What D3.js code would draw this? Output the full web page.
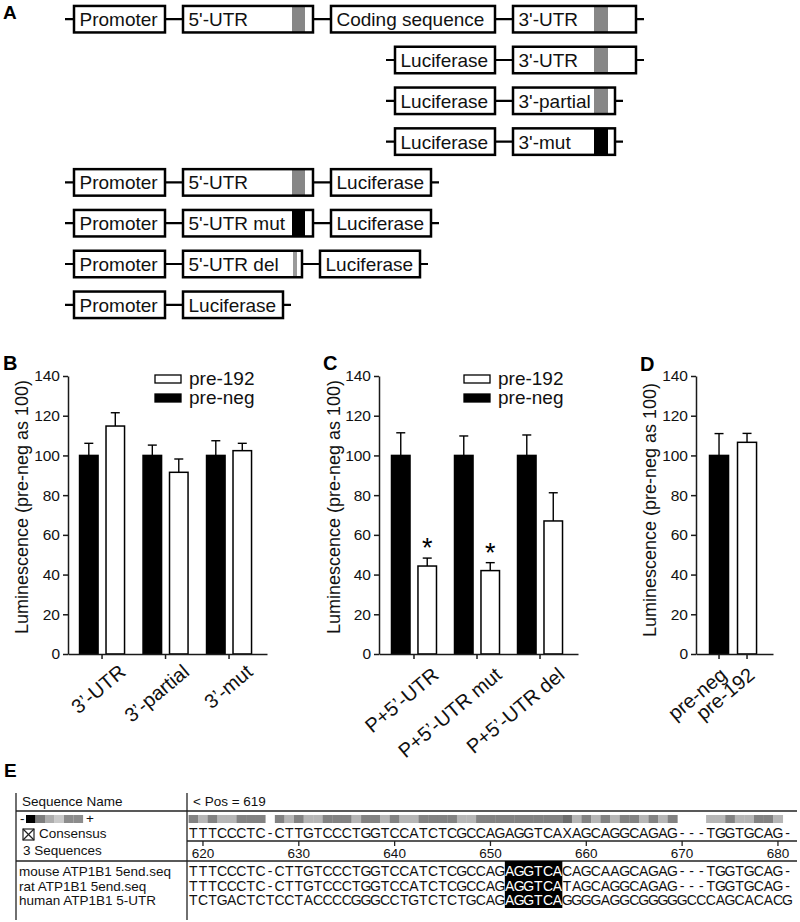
<!DOCTYPE html>
<html><head><meta charset="utf-8">
<script src="https://cdn.jsdelivr.net/npm/d3@7"></script>
<style>
body{margin:0;background:#fff}
svg{display:block}
text{font-family:"Liberation Sans",Arial,Helvetica,sans-serif}
</style>
</head><body>
<svg id="fig" width="800" height="922"></svg>
<script>
// ================= DATA =================
// Panel A: constructs (element labels per row) and target-site markers
const constructParts = [
  ["Promoter","5'-UTR","Coding sequence","3'-UTR"],
  ["Luciferase","3'-UTR"],
  ["Luciferase","3'-partial"],
  ["Luciferase","3'-mut"],
  ["Promoter","5'-UTR","Luciferase"],
  ["Promoter","5'-UTR mut","Luciferase"],
  ["Promoter","5'-UTR del","Luciferase"],
  ["Promoter","Luciferase"]
];
const siteType = {"3'-UTR":"site","3'-partial":"site","3'-mut":"mut","5'-UTR":"site","5'-UTR mut":"mut","5'-UTR del":"del"};

// Shared
const seriesNames = ["pre-192","pre-neg"];
const yTicks = [0,20,40,60,80,100,120,140];

// Panel B
const bCategories = ["3’-UTR","3’-partial","3’-mut"];
const bPreNeg    = [100,100,100];
const bPreNegErr = [6.1,5.2,7.4];
const bPre192    = [114.8,91.5,102.4];
const bPre192Err = [6.7,6.7,3.7];

// Panel C
const cCategories = ["P+5’-UTR","P+5’-UTR mut","P+5’-UTR del"];
const cPreNeg    = [100,100,100];
const cPreNegErr = [11.4,9.8,10.3];
const cPre192    = [44.3,42,67];
const cPre192Err = [4,4,14.2];
const cSignificant = [true,true,false];

// Panel D
const dCategories = ["pre-neg","pre-192"];
const dValues = [100,106.6];
const dErr    = [11,4.5];

// Panel E: alignment
const startPos = 619;
const seqNames = ["mouse ATP1B1 5end.seq","rat ATP1B1 5end.seq","human ATP1B1 5-UTR"];
const consensusSeq = "TTTCCCTC-CTTGTCCCTGGTCCATCTCGCCAGAGGTCAXAGCAGGCAGAG---TGGTGCAG-";
const alignedSeqs = [
  "TTTCCCTC-CTTGTCCCTGGTCCATCTCGCCAGAGGTCACAGCAAGCAGAG---TGGTGCAG-",
  "TTTCCCTC-CTTGTCCCTGGTCCATCTCGCCAGAGGTCATAGCAGGCAGAG---TGGTGCAG-",
  "TCTGACTCTCCTACCCCGGGCCTGTCTCTGCAGAGGTCAGGGGAGGCGGGGGCCCAGCACACG"
];
// conservation per column: D = all agree, L = 2 of 3, X = none, W = gap
const conservation = "DLDLLDDDWDLDLLDDDLDDLDLLDDDDLLDDDDDDDDDXLDLDLDDLDLDWWWLLDLLDDLW";
const rulerTicks = [620,630,640,650,660,670,680];
const motifRange = [652,657];
const scaleLegend = ["k","1","2","3","4","4"];

// ================= DRAWING =================
const svg = d3.select("#fig");
svg.append("rect").attr("width",800).attr("height",922).attr("fill","#fff");
const INK = "#1a1a1a";

function panelLabel(t,x,y,size){
  svg.append("text").attr("x",x).attr("y",y).attr("font-size",size||20)
    .attr("font-weight","bold").attr("fill","#000").text(t);
}

// ---------- Panel A ----------
panelLabel("A",3,19,19);
const rowY = d3.scalePoint().domain(d3.range(constructParts.length)).range([19.2,304.8]);
const boxW = {"Promoter":91,"5'-UTR":130,"Coding sequence":164,"3'-UTR":123,"Luciferase":100,
              "3'-partial":102,"3'-mut":102,"5'-UTR mut":130,"5'-UTR del":119};
const rowStart = [74,395,395,395,74,74,74,74];
const boxGap = 18, boxH = 26.5, lead = 9, tail = 8;
const markGeom = {"3'":{off:81,w:14}, "5'":{off:109,w:13}, "del":{off:110,w:4}};
const markFill = {site:"#878787", mut:"#000", del:"#9a9a9a"};
const gA = svg.append("g");
constructParts.forEach((parts,r)=>{
  const y = rowY(r);
  let x = rowStart[r];
  const boxes = parts.map(p=>{const b={label:p,x:x,w:boxW[p]}; x += boxW[p]+boxGap; return b;});
  const last = boxes[boxes.length-1];
  gA.append("line").attr("x1",rowStart[r]-lead).attr("x2",last.x+last.w+tail)
    .attr("y1",y).attr("y2",y).attr("stroke","#000").attr("stroke-width",2.2);
  const bg = gA.selectAll(null).data(boxes).enter().append("g");
  bg.append("rect").attr("x",d=>d.x).attr("y",y-boxH/2).attr("width",d=>d.w).attr("height",boxH)
    .attr("fill","#fff");
  const geom = d=>siteType[d.label]==="del"?markGeom.del:markGeom[d.label.slice(0,2)];
  bg.filter(d=>siteType[d.label]).append("rect")
    .attr("x",d=>d.x+geom(d).off).attr("width",d=>geom(d).w)
    .attr("y",y-boxH/2).attr("height",boxH)
    .attr("fill",d=>markFill[siteType[d.label]]);
  bg.append("rect").attr("x",d=>d.x).attr("y",y-boxH/2).attr("width",d=>d.w).attr("height",boxH)
    .attr("fill","none").attr("stroke","#000").attr("stroke-width",2.5);
  bg.append("text").attr("x",d=>d.x+5.5).attr("y",y+7).attr("font-size",19).attr("fill","#111")
    .text(d=>d.label);
});

// ---------- Bar panels ----------
const yScale = d3.scaleLinear().domain([0,140]).range([654,376]);

function yAxisPanel(ax, titleX, titleY){
  const g = svg.append("g").attr("transform",`translate(${ax},0)`)
    .call(d3.axisLeft(yScale).tickValues(yTicks).tickSize(5).tickSizeOuter(0).tickPadding(3));
  g.select(".domain").attr("stroke",INK).attr("stroke-width",1.5);
  g.selectAll(".tick line").attr("stroke",INK).attr("stroke-width",1.5);
  g.selectAll(".tick text").attr("font-size",15.5).attr("fill","#111")
    .style("font-family",'"Liberation Sans",Arial,sans-serif');
  svg.append("text").attr("transform",`translate(${titleX},${titleY}) rotate(-90)`)
    .attr("text-anchor","middle").attr("font-size",18).attr("fill","#111")
    .text("Luminescence (pre-neg as 100)");
}
function xAxisPanel(scale, labels, dx, dy){
  const g = svg.append("g").attr("transform",`translate(0,${yScale(0)})`)
    .call(d3.axisBottom(scale).tickSize(5).tickSizeOuter(0).tickFormat(""));
  g.select(".domain").attr("stroke",INK).attr("stroke-width",1.5);
  g.selectAll(".tick line").attr("stroke",INK).attr("stroke-width",1.5);
  svg.append("g").selectAll("text").data(labels).enter().append("text")
    .attr("text-anchor","end").attr("font-size",20).attr("fill","#111")
    .attr("transform",d=>`translate(${scale(d)+scale.bandwidth()/2+dx},${yScale(0)+dy}) rotate(-40)`)
    .text(d=>d);
}
function errorBar(cx, v, e){
  const g = svg.append("g").attr("stroke","#000").attr("stroke-width",1.4);
  g.append("line").attr("x1",cx).attr("x2",cx).attr("y1",yScale(v)).attr("y2",yScale(v+e));
  g.append("line").attr("x1",cx-4.5).attr("x2",cx+4.5).attr("y1",yScale(v+e)).attr("y2",yScale(v+e));
}
function bar(cx, w, v, black){
  svg.append("rect").attr("x",cx-w/2).attr("width",w).attr("y",yScale(v)).attr("height",yScale(0)-yScale(v))
    .attr("fill",black?"#000":"#fff").attr("stroke","#000").attr("stroke-width",1.5);
}
function legend(x){
  const items = [{n:seriesNames[0],black:false,y:375},{n:seriesNames[1],black:true,y:394}];
  items.forEach(it=>{
    svg.append("rect").attr("x",x).attr("y",it.y).attr("width",26).attr("height",8)
      .attr("fill",it.black?"#000":"#fff").attr("stroke","#000").attr("stroke-width",1.3);
    svg.append("text").attr("x",x+34).attr("y",it.y+9.5).attr("font-size",19).attr("fill","#111").text(it.n);
  });
}
function groupedPanel(cats, neg, negErr, p192, p192Err, x0, x1, po, align){
  const gx = d3.scaleBand().domain(cats).range([x0,x1]).paddingInner(0).paddingOuter(po).align(align);
  const sub = d3.scaleBand().domain(["pre-neg","pre-192"]).range([-22.5,22.5]).paddingInner(0.3);
  cats.forEach((c,i)=>{
    const cx = gx(c)+gx.bandwidth()/2;
    const xn = cx+sub("pre-neg")+sub.bandwidth()/2;
    const xp = cx+sub("pre-192")+sub.bandwidth()/2;
    errorBar(xn, neg[i], negErr[i]);
    errorBar(xp, p192[i], p192Err[i]);
    bar(xn, sub.bandwidth(), neg[i], true);
    bar(xp, sub.bandwidth(), p192[i], false);
  });
  return {gx, sub};
}

// Panel B
panelLabel("B",3,370,20);
const pb = groupedPanel(bCategories,bPreNeg,bPreNegErr,bPre192,bPre192Err,68,267,0.067,0.27);
yAxisPanel(68, 28, 507);
xAxisPanel(pb.gx, bCategories, 25, 20);
legend(155);

// Panel C
panelLabel("C",323,370,20);
const pc = groupedPanel(cCategories,cPreNeg,cPreNegErr,cPre192,cPre192Err,379,578,0.079,0.35);
yAxisPanel(379, 339.5, 507);
xAxisPanel(pc.gx, cCategories, 26, 23);
legend(464);
cCategories.forEach((c,i)=>{
  if(!cSignificant[i]) return;
  const cx = pc.gx(c)+pc.gx.bandwidth()/2+pc.sub("pre-192")+pc.sub.bandwidth()/2;
  svg.append("text").attr("x",cx).attr("y",yScale(cPre192[i]+cPre192Err[i])-1)
    .attr("text-anchor","middle").attr("font-size",27).attr("fill","#000").text("*");
});

// Panel D
panelLabel("D",640,371,20);
const dx = d3.scaleBand().domain(dCategories).range([696,773]).paddingInner(0).paddingOuter(0.375).align(0.43);
dCategories.forEach((c,i)=>{
  const cx = dx(c)+dx.bandwidth()/2;
  errorBar(cx, dValues[i], dErr[i]);
  bar(cx, dx.step()*0.68, dValues[i], i===0);
});
yAxisPanel(696, 656, 510);
xAxisPanel(dx, dCategories, 9, 23);

// ---------- Panel E ----------
panelLabel("E",4,777,19);
const gE = svg.append("g").attr("font-size",13.5).attr("fill","#111");
const lineE = (x1,y1,x2,y2)=>gE.append("line").attr("x1",x1).attr("y1",y1).attr("x2",x2).attr("y2",y2)
  .attr("stroke","#222").attr("stroke-width",1.3);
lineE(16,793,16,920);
lineE(187,793,187,920);
lineE(16,811,797,811);
lineE(187,841,797,841);
lineE(16,861,797,861);

gE.append("text").attr("x",22).attr("y",806).text("Sequence Name");
gE.append("text").attr("x",193).attr("y",806).text("< Pos = "+startPos);

// colour-scale legend
const shade = {k:"#000","1":"#7d7d7d","2":"#adadad","3":"#c9c9c9","4":"#8c8c8c",
               D:"#828282", L:"#b6b6b6", X:"#6c6c6c", W:"none"};
gE.append("text").attr("x",20).attr("y",823).text("-");
gE.selectAll(null).data(scaleLegend).enter().append("rect")
  .attr("x",(d,i)=>26+i*9.5).attr("y",815).attr("width",9.6).attr("height",8).attr("fill",d=>shade[d]);
gE.append("text").attr("x",86).attr("y",823).text("+");
// checkbox
gE.append("rect").attr("x",23).attr("y",829).attr("width",11).attr("height",11).attr("fill","none").attr("stroke","#222").attr("stroke-width",1.2);
lineE(23,829,34,840); lineE(34,829,23,840);
gE.append("text").attr("x",39).attr("y",838).text("Consensus");
gE.append("text").attr("x",23).attr("y",855).text(alignedSeqs.length+" Sequences");
const rowBase = [876,890.5,905];
seqNames.forEach((n,i)=>gE.append("text").attr("x",19).attr("y",rowBase[i]).text(n));

// position scale
const positions = d3.range(startPos, startPos+consensusSeq.length);
const pos = d3.scaleBand().domain(positions).range([188.6, 188.6+positions.length*9.583]);
const pc0 = p=>pos(p)+pos.bandwidth()/2;

// conservation bar
gE.selectAll(null).data(positions).enter().append("rect")
  .attr("x",p=>pos(p)).attr("width",pos.bandwidth()+0.3).attr("y",815).attr("height",8)
  .attr("fill",p=>shade[conservation[p-startPos]]);

// motif highlight
gE.append("rect").attr("x",pos(motifRange[0])).attr("y",861)
  .attr("width",pos(motifRange[1])+pos.bandwidth()-pos(motifRange[0])).attr("height",47).attr("fill","#000");

function seqRow(seq, y, highlight){
  gE.selectAll(null).data(seq.split("")).enter().append("text")
    .attr("x",(c,i)=>pc0(startPos+i)).attr("y",y).attr("text-anchor","middle").attr("font-size",14)
    .attr("fill",(c,i)=>highlight && startPos+i>=motifRange[0] && startPos+i<=motifRange[1] ? "#fff":"#111")
    .text(c=>c);
}
seqRow(consensusSeq, 838, false);
alignedSeqs.forEach((s,i)=>seqRow(s,rowBase[i],true));

// ruler
rulerTicks.forEach(t=>{
  lineE(pc0(t),841,pc0(t),846);
  gE.append("text").attr("x",pc0(t)).attr("y",858).attr("text-anchor","middle").text(t);
});
</script>
</body></html>
